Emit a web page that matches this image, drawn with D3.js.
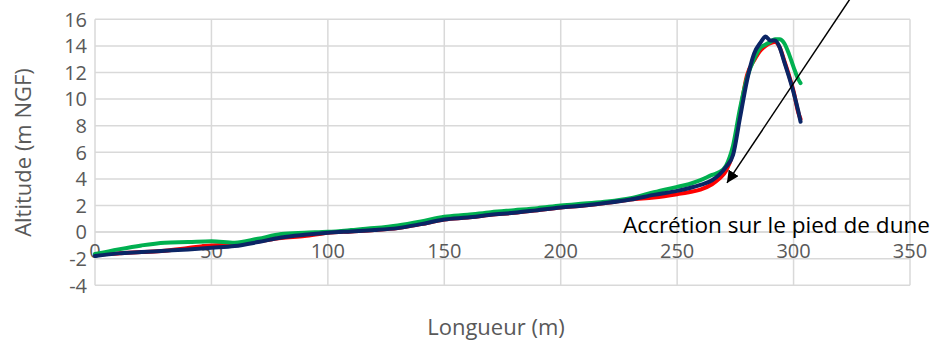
<!DOCTYPE html>
<html><head><meta charset="utf-8">
<script src="https://cdn.jsdelivr.net/npm/d3@7"></script>
<style>body{margin:0;background:#fff;}svg{display:block;font-family:"Open Sans",sans-serif;}</style>
</head><body>
<svg id="c" width="933" height="342"></svg>
<script>
const distance = [0,10,20,30,40,50,60,70,80,90,100,110,120,130,140,150,160,170,180,190,200,210,220,230,240,250,255,260,265,268,271,274,277,280,283,286,288,290,292,294,296,298,300,302,303];
const redSeries = [-1.7,-1.6,-1.5,-1.4,-1.2,-1.0,-0.95,-0.7,-0.45,-0.3,-0.05,0.05,0.15,0.3,0.6,0.95,1.1,1.3,1.45,1.65,1.85,2.0,2.2,2.45,2.6,2.85,3.0,3.2,3.6,4.0,4.6,6.0,9.0,11.8,12.9,13.7,14.0,14.2,14.3,13.9,12.9,11.8,10.6,9.0,8.5];
const greenSeries = [-1.65,-1.3,-1.0,-0.8,-0.75,-0.68,-0.8,-0.5,-0.15,-0.05,0.02,0.15,0.3,0.5,0.8,1.15,1.3,1.5,1.65,1.8,2.0,2.15,2.3,2.55,3.0,3.4,3.6,3.9,4.3,4.5,5.0,6.5,9.3,11.6,13.0,13.9,14.1,14.3,14.5,14.5,14.2,13.4,12.4,11.5,11.2];
const blueSeries = [-1.8,-1.6,-1.5,-1.4,-1.3,-1.18,-1.05,-0.75,-0.4,-0.2,-0.05,0.05,0.15,0.3,0.6,0.95,1.1,1.3,1.45,1.65,1.85,2.0,2.2,2.45,2.8,3.1,3.3,3.55,3.9,4.3,4.9,5.8,8.6,11.4,13.4,14.3,14.7,14.4,14.4,13.9,12.8,11.7,10.5,9.1,8.3];
const xTicks = [0,50,100,150,200,250,300,350];
const yTicks = [-4,-2,0,2,4,6,8,10,12,14,16];
const annotationText = "Accrétion sur le pied de dune";
const arrowFrom = [324.5, 17.6];
const arrowTo = [271.4, 3.7];

const svg = d3.select("#c");
const x = d3.scaleLinear().domain([0,350]).range([95,910]);
const y = d3.scaleLinear().domain([-4,16]).range([285.3,19.3]);

const grid = svg.append("g");
grid.selectAll("line.h").data(yTicks).join("line")
  .attr("x1", x(0)).attr("x2", x(350)).attr("y1", d=>y(d)).attr("y2", d=>y(d))
  .attr("stroke", "#d9d9d9").attr("stroke-width", 1.5);
grid.selectAll("line.v").data(xTicks).join("line")
  .attr("x1", d=>x(d)).attr("x2", d=>x(d)).attr("y1", y(16)).attr("y2", y(-4))
  .attr("stroke", "#d9d9d9").attr("stroke-width", 1.5);

// y tick labels
svg.append("g").selectAll("text").data(yTicks).join("text")
  .attr("x", 87).attr("y", d=>y(d)).attr("dy", "0.36em")
  .attr("text-anchor", "end").attr("font-size", 20).attr("fill", "#595959")
  .text(d=>d);
// x tick labels (axis crosses at 0)
svg.append("g").selectAll("text").data(xTicks).join("text")
  .attr("x", d=>x(d)).attr("y", y(0)+26)
  .attr("text-anchor", "middle").attr("font-size", 20).attr("fill", "#595959")
  .text(d=>d);

// x axis line at 0
svg.append("line").attr("x1", x(0)).attr("x2", x(350)).attr("y1", y(0)).attr("y2", y(0))
  .attr("stroke", "#d9d9d9").attr("stroke-width", 1.5);

const line = d3.line().x((d,i)=>x(distance[i])).y(d=>y(d)).curve(d3.curveMonotoneX);
const series = [[redSeries,"#ff0000"],[greenSeries,"#00b050"],[blueSeries,"#0b2565"]];
svg.append("g").selectAll("path").data(series).join("path")
  .attr("d", d=>line(d[0])).attr("fill","none").attr("stroke", d=>d[1])
  .attr("stroke-width", 4).attr("stroke-linejoin","round").attr("stroke-linecap","round");

// titles
svg.append("text").attr("x", 496).attr("y", 335).attr("text-anchor","middle")
  .attr("font-size", 22).attr("fill", "#595959").text("Longueur (m)");
svg.append("text").attr("transform", "translate(31,152.5) rotate(-90)").attr("text-anchor","middle")
  .attr("font-size", 22).attr("fill", "#595959").text("Altitude (m NGF)");

// annotation
svg.append("text").attr("x", 623).attr("y", 233).attr("font-size", 22).attr("fill", "#000")
  .attr("textLength", 307).attr("lengthAdjust", "spacingAndGlyphs")
  .text(annotationText);
svg.append("defs").append("marker").attr("id","ah").attr("viewBox","0 0 10 10")
  .attr("refX",10).attr("refY",5).attr("markerWidth",12).attr("markerHeight",12)
  .attr("markerUnits","userSpaceOnUse").attr("orient","auto")
  .append("path").attr("d","M0,0 L10,5 L0,10 z").attr("fill","#000");
svg.append("line").attr("x1", x(arrowFrom[0])).attr("y1", y(arrowFrom[1]))
  .attr("x2", x(arrowTo[0])).attr("y2", y(arrowTo[1]))
  .attr("stroke","#000").attr("stroke-width",1.5).attr("marker-end","url(#ah)");
</script>
</body></html>
